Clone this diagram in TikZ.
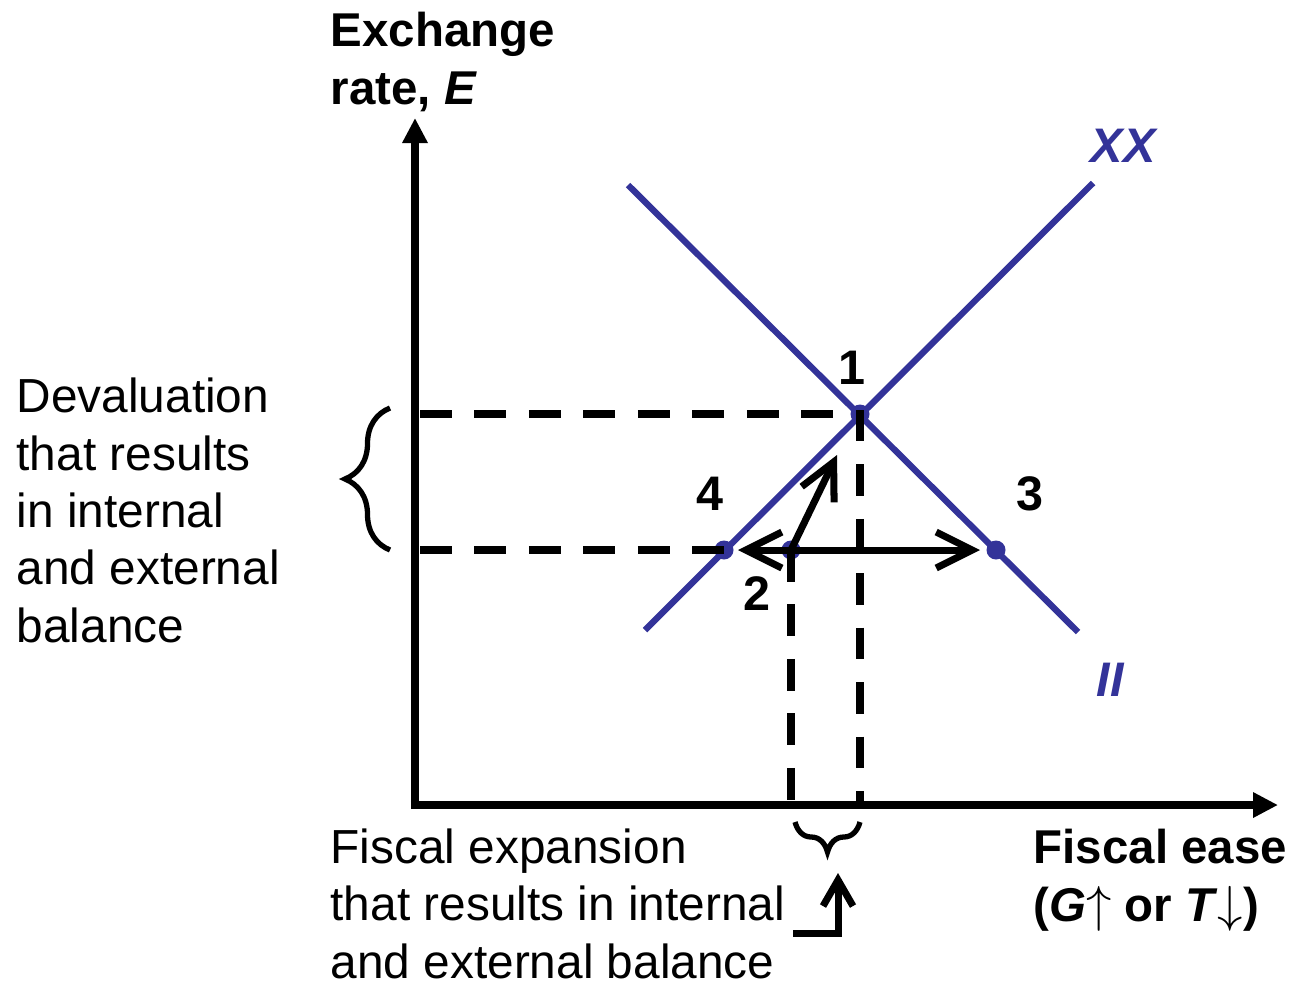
\documentclass[tikz,border=0pt]{standalone}
\usepackage{fontspec}
\setmainfont{Liberation Sans}
\usetikzlibrary{arrows.meta,decorations.pathreplacing}
\definecolor{curveblue}{RGB}{51,51,153}
\tikzset{
  axis/.style={line width=2.3pt,-{Triangle[length=0.25cm,width=0.24cm]}},
  curve/.style={curveblue,line width=1.8pt},
  guide/.style={line width=2.2pt,dash pattern=on 9pt off 6.5pt},
  barb/.style={-{Straight Barb[length=0.36cm,width=0.36cm]}},
  move/.style={line width=2pt,{Straight Barb[length=0.36cm,width=0.36cm]}-{Straight Barb[length=0.36cm,width=0.36cm]}},
  dot/.style={circle,fill=curveblue,inner sep=0pt,minimum size=0.19cm},
  pointlabel/.style={font=\fontsize{13.8}{16.3}\selectfont\bfseries},
  sidetext/.style={font=\fontsize{13.6}{16.3}\selectfont,align=left,inner sep=0pt},
  boldtext/.style={sidetext,font=\fontsize{13.5}{16.3}\selectfont\bfseries},
  bracket/.style={line width=1.5pt,decorate}
}
\begin{document}
\begin{tikzpicture}
  \useasboundingbox (0,0) rectangle (12.91,9.80);

  % axes
  \coordinate (O) at (4.15,1.75);
  \coordinate (Ytop) at (4.15,8.62);
  \coordinate (Xend) at (12.78,1.75);
  \draw[axis] ([yshift=-1.15pt]O) -- (Ytop);
  \draw[axis] ([xshift=-1.15pt]O) -- (Xend);

  % XX and II schedules
  \coordinate (XXa) at (6.45,3.50);
  \coordinate (XXb) at (10.93,7.97);
  \coordinate (IIa) at (6.28,7.95);
  \coordinate (IIb) at (10.78,3.48);
  \draw[curve] (XXa) -- (XXb);
  \draw[curve] (IIa) -- (IIb);

  % points
  \node[dot] (P1) at (8.60,5.66) {};
  \node[dot] (P4) at (7.24,4.30) {};
  \node[dot] (P3) at (9.96,4.30) {};
  \node[dot] (P2) at (7.91,4.30) {};

  % dashed guides
  \coordinate (E1) at (4.20,5.66);
  \coordinate (E2) at (4.20,4.30);
  \coordinate (G1) at (8.60,1.75);
  \coordinate (G2) at (7.91,1.75);
  \draw[guide] (E1) -- (P1.center) -- (G1);
  \draw[guide] (E2) -- (P4.center);
  \draw[guide] (P2.center) -- (G2);

  % policy moves
  \coordinate (L) at (7.38,4.30);
  \coordinate (R) at (9.80,4.30);
  \coordinate (U) at (8.37,5.25);
  \draw[move] (L) -- (R);
  \draw[line width=2pt,barb] (P2.center) -- (U);

  % labels
  \node[pointlabel] (l1) at (8.52,6.12) {1};
  \node[pointlabel] (l4) at (7.10,4.86) {4};
  \node[pointlabel] (l3) at (10.30,4.86) {3};
  \node[pointlabel] (l2) at (7.57,3.86) {2};
  \node[pointlabel,text=curveblue] (xx) at (11.23,8.34) {\itshape XX};
  \node[pointlabel,text=curveblue] (ii) at (11.10,3.00) {\itshape II};

  \node[boldtext,anchor=base west] (ylab) at (3.30,8.76) {Exchange\\rate, \textit{E}};
  \node[boldtext,anchor=base west] (xlab) at (10.33,0.59) {Fiscal ease\\(\textit{G}$\uparrow$ or \textit{T}$\downarrow$)};
  \node[sidetext,anchor=base west] (deval) at (0.16,3.38) {Devaluation\\that results\\in internal\\and external\\balance};
  \node[sidetext,anchor=base west] (fisc) at (3.30,0.02) {Fiscal expansion\\that results in internal\\and external balance};

  % braces
  \coordinate (Ba) at (3.90,4.30);
  \coordinate (Bb) at (3.90,5.72);
  \draw[bracket,decoration={brace,amplitude=0.45cm}] (Ba) -- (Bb);
  \coordinate (Ca) at (8.60,1.58);
  \coordinate (Cb) at (7.95,1.58);
  \draw[bracket,decoration={brace,amplitude=0.3cm}] (Ca) -- (Cb);

  % pointer
  \coordinate (Ka) at (7.93,0.47);
  \coordinate (Kb) at (8.38,0.47);
  \coordinate (Kc) at (8.38,1.07);
  \draw[line width=2pt,-{Straight Barb[length=0.26cm,width=0.3cm]}] (Ka) -- (Kb) -- (Kc);
\end{tikzpicture}
\end{document}
